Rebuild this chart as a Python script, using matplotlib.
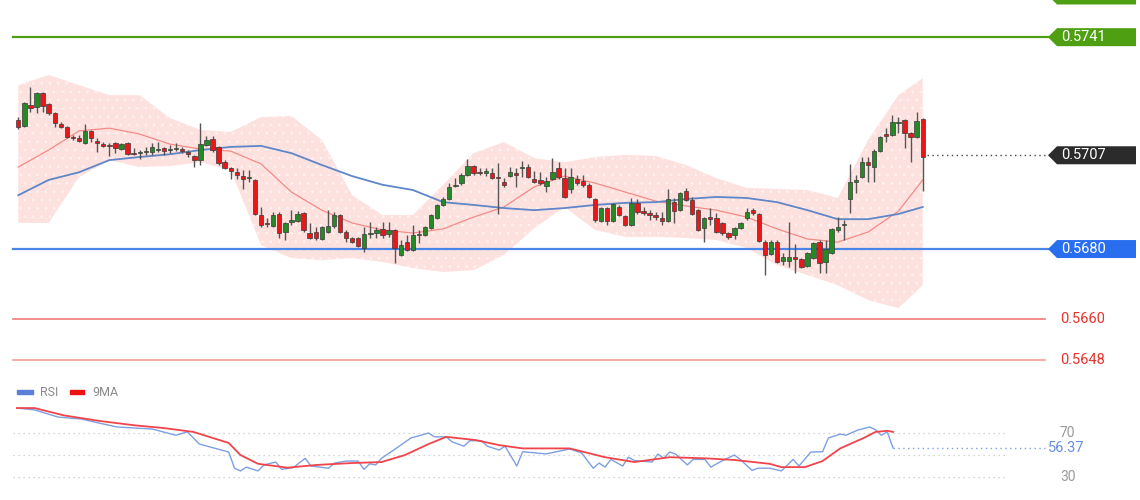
import numpy as np
import matplotlib
matplotlib.use("Agg")
import matplotlib.pyplot as plt
from matplotlib.patches import Polygon, Rectangle
import matplotlib.transforms as mtrans

plt.rcParams['font.family'] = ['Roboto', 'DejaVu Sans']
plt.rcParams['hatch.linewidth'] = 0.6

# ---- candles (150 bars) ----
opens = [.57171, .57154, .57215, .57209, .57249, .57217, .57191, .57160, .57151, .57123,
         .57120, .57105, .57140, .57111, .57102, .57099, .57105, .57088, .57105, .57076,
         .57076, .57079, .57079, .57085, .57091, .57085, .57088, .57088, .57079, .57068,
         .57056, .57099, .57117, .57094, .57050, .57033, .57021, .57010, .57004, .56999,
         .56898, .56875, .56866, .56901, .56849, .56878, .56880, .56904, .56846, .56849,
         .56829, .56849, .56866, .56898, .56849, .56832, .56832, .56803, .56843, .56846,
         .56858, .56843, .56855, .56783, .56820, .56797, .56840, .56840, .56860, .56889,
         .56927, .56944, .56982, .56990, .57013, .57039, .57021, .57019, .57019, .57007,
         .56993, .57010, .57019, .57033, .57036, .57001, .56999, .56982, .57001, .57033,
         .57004, .56973, .57001, .56996, .56985, .56944, .56880, .56918, .56880, .56921,
         .56895, .56869, .56933, .56909, .56904, .56898, .56889, .56880, .56935, .56912,
         .56967, .56941, .56912, .56860, .56892, .56889, .56875, .56846, .56840, .56860,
         .56889, .56912, .56901, .56820, .56786, .56820, .56765, .56765, .56777, .56771,
         .56751, .56774, .56820, .56763, .56788, .56855, .56869, .56944, .56993, .57007,
         .57050, .57036, .57082, .57131, .57128, .57163, .57171, .57134, .57123, .57174]
closes = [.57151, .57220, .57206, .57249, .57212, .57191, .57163, .57151, .57123, .57120,
          .57111, .57140, .57120, .57105, .57097, .57097, .57091, .57102, .57073, .57073,
          .57079, .57082, .57094, .57088, .57082, .57088, .57091, .57082, .57073, .57056,
          .57102, .57114, .57085, .57048, .57033, .57024, .57013, .57001, .57007, .56901,
          .56869, .56872, .56898, .56846, .56875, .56883, .56901, .56855, .56832, .56832,
          .56863, .56866, .56898, .56849, .56832, .56820, .56809, .56843, .56846, .56855,
          .56840, .56855, .56803, .56811, .56797, .56840, .56843, .56863, .56898, .56927,
          .56944, .56979, .56985, .57013, .57039, .57019, .57019, .57024, .57004, .57004,
          .56985, .57021, .57013, .57036, .57007, .56993, .56990, .56996, .57021, .57007,
          .56950, .57007, .56990, .56985, .56950, .56883, .56918, .56880, .56930, .56898,
          .56869, .56933, .56906, .56904, .56898, .56892, .56880, .56944, .56909, .56961,
          .56941, .56901, .56855, .56889, .56886, .56849, .56846, .56835, .56860, .56875,
          .56906, .56904, .56823, .56783, .56820, .56763, .56777, .56777, .56771, .56748,
          .56788, .56817, .56760, .56800, .56858, .56863, .56872, .56993, .56999, .57050,
          .57042, .57082, .57123, .57125, .57166, .57166, .57134, .57123, .57169, .57065]
highs = [.57180, .57223, .57266, .57252, .57252, .57220, .57194, .57166, .57154, .57128,
         .57128, .57160, .57143, .57120, .57108, .57105, .57108, .57105, .57108, .57091,
         .57085, .57094, .57105, .57108, .57094, .57099, .57105, .57094, .57085, .57071,
         .57163, .57125, .57125, .57097, .57056, .57036, .57033, .57027, .57027, .57002,
         .56921, .56889, .56906, .56906, .56878, .56912, .56909, .56907, .56875, .56863,
         .56866, .56912, .56906, .56901, .56855, .56835, .56835, .56863, .56878, .56863,
         .56878, .56878, .56858, .56826, .56840, .56869, .56855, .56866, .56901, .56930,
         .56950, .56990, .57004, .57019, .57059, .57042, .57033, .57033, .57033, .57048,
         .57004, .57036, .57033, .57053, .57045, .57024, .57021, .57007, .57062, .57050,
         .57033, .57033, .57013, .57013, .56990, .56947, .56921, .56921, .56933, .56927,
         .56898, .56947, .56944, .56921, .56912, .56906, .56906, .56973, .56947, .56964,
         .56976, .56950, .56915, .56892, .56918, .56904, .56878, .56849, .56863, .56878,
         .56918, .56918, .56904, .56826, .56826, .56826, .56788, .56878, .56814, .56774,
         .56791, .56820, .56826, .56826, .56860, .56892, .56883, .57045, .57013, .57065,
         .57065, .57088, .57125, .57148, .57186, .57180, .57174, .57137, .57194, .57177]
lows = [.57145, .57151, .57194, .57191, .57194, .57186, .57151, .57148, .57120, .57114,
        .57108, .57102, .57108, .57079, .57094, .57068, .57076, .57085, .57071, .57071,
        .57059, .57071, .57071, .57079, .57071, .57076, .57082, .57076, .57065, .57036,
        .57042, .57097, .57079, .57042, .57030, .57001, .57001, .56973, .56993, .56898,
        .56863, .56863, .56863, .56832, .56826, .56869, .56878, .56849, .56829, .56826,
        .56826, .56846, .56860, .56846, .56820, .56817, .56806, .56791, .56832, .56832,
        .56832, .56835, .56760, .56780, .56794, .56794, .56817, .56837, .56858, .56886,
        .56924, .56941, .56979, .56985, .57010, .57013, .57013, .57010, .57001, .56901,
        .56979, .57007, .56979, .57007, .57004, .56990, .56985, .56964, .56999, .57001,
        .56947, .56961, .56985, .56979, .56947, .56878, .56878, .56869, .56878, .56895,
        .56866, .56866, .56901, .56898, .56883, .56883, .56869, .56878, .56875, .56909,
        .56938, .56898, .56852, .56820, .56869, .56846, .56840, .56829, .56829, .56858,
        .56883, .56898, .56820, .56725, .56783, .56760, .56754, .56748, .56731, .56745,
        .56748, .56771, .56731, .56731, .56786, .56849, .56826, .56904, .56961, .57004,
        .56993, .56993, .57079, .57108, .57125, .57134, .57091, .57050, .57120, .56966]

# ---- overlays, read every 5 bars ----
ov_idx = [0, 5, 10, 15, 20, 25, 30, 35, 40, 45, 50, 55, 60, 65, 70, 75, 80, 85, 90, 95,
          100, 105, 110, 115, 120, 125, 130, 135, 140, 145, 149]
bb_mid = [.57036, .57085, .57140, .57148, .57131, .57102, .57088, .57082, .57045, .56964,
          .56912, .56875, .56855, .56846, .56858, .56892, .56921, .56979, .57010, .56990,
          .56964, .56938, .56924, .56912, .56892, .56858, .56829, .56820, .56849, .56909, .56999]
bb_up = [.57272, .57301, .57272, .57243, .57243, .57177, .57143, .57137, .57180, .57183,
         .57114, .56955, .56898, .56898, .56985, .57076, .57108, .57062, .57050, .57065,
         .57071, .57068, .57042, .57004, .56976, .56973, .56970, .56947, .57114, .57243, .57292]
bb_lo = [.56875, .56875, .57007, .57056, .57036, .57039, .57050, .57027, .56811, .56774,
         .56768, .56774, .56763, .56745, .56734, .56739, .56783, .56860, .56921, .56855,
         .56835, .56835, .56832, .56826, .56803, .56754, .56725, .56696, .56653, .56630, .56696]
ma_slow = [.56955, .56999, .57021, .57056, .57065, .57073, .57085, .57094, .57097, .57076,
           .57042, .57010, .56985, .56970, .56935, .56927, .56918, .56912, .56918, .56927,
           .56933, .56935, .56944, .56950, .56947, .56935, .56912, .56886, .56886, .56901, .56921]

# ---- levels ----
res_level = 0.5741
res_level2 = 0.5753
last_price = 0.5707
sup_level = 0.5680
sup2 = 0.5660
sup3 = 0.5648

# ---- RSI panel ----
rsi_idx = [0, 3, 7, 11, 14, 17, 23, 27, 29, 31, 36, 37, 38, 39, 41, 42, 44, 45, 47, 49,
           50, 53, 54, 56, 58, 59, 60, 61, 62, 65, 67, 70, 71, 73, 74, 76, 77, 79, 80, 82,
           83, 85, 86, 90, 94, 96, 98, 99, 100, 101, 103, 104, 105, 108, 109, 110, 111, 112, 114, 115,
           117, 118, 120, 122, 123, 125, 126, 128, 130, 132, 133, 135, 137, 138, 140, 141, 143, 145, 146, 147,
           148, 149]
rsi_val = [92.7, 91, 84.5, 82.7, 79, 75.5, 73.6, 68, 71, 60, 52.7, 38, 35.5, 39, 35.5, 41, 43.6, 37, 38.5, 47,
           40, 38, 42.7, 44.5, 44.5, 37, 42, 41, 47, 58, 65.5, 70, 66.5, 66.5, 62, 58, 63, 63, 58, 54.5,
           58, 40, 53, 51, 55.5, 52, 38, 42.7, 39, 46, 40, 48, 45, 43.6, 50.9, 47, 52.7, 50.9, 41, 46,
           46, 39, 45, 50, 46, 36, 38, 38, 35.5, 46, 40, 52.7, 53, 65.5, 69, 68, 72.7, 75.5, 73, 68,
           71, 56.37]
ma9_idx = [0, 3, 8, 14, 20, 25, 30, 36, 38, 41, 46, 51, 57, 62, 66, 70, 73, 78, 82, 86,
           94, 100, 105, 111, 117, 122, 128, 130, 134, 137, 140, 144, 146, 148, 149]
ma9_val = [92.7, 92.7, 86, 81, 77, 74.5, 71, 61, 50, 42, 38.5, 41, 42.7, 43.6, 50, 60, 66.5, 63.6, 59, 56,
           56, 48, 43.6, 48, 47, 45.5, 42, 39, 39, 44.5, 56, 65.5, 71, 72, 71]

W, H = 1140, 500
fig = plt.figure(figsize=(W / 100, H / 100), dpi=100)
fig.patch.set_facecolor('white')

# price panel covers pixel rows 0..380
ax = fig.add_axes([0, 120 / H, 1, 380 / H])
ax.axis('off')
x0, dx = 18.3, 6.07          # pixel of bar 0 and bar spacing
ax.set_xlim(-x0 / dx, (W - x0) / dx)
ax.set_ylim(0.56423, 0.57517)


def px(xp):
    return (xp - x0) / dx


# bollinger cloud
ax.fill_between(ov_idx, bb_lo, bb_up, facecolor='#fde1df', edgecolor='#fff4f3',
                hatch='..', linewidth=0, zorder=1)
ax.plot(ov_idx, bb_mid, color='#f28b86', lw=0.9, zorder=2)
ax.plot(ov_idx, ma_slow, color='#5f86c8', lw=1.3, zorder=2)

# candles
n = len(opens)
idx = np.arange(n)
o = np.array(opens); c = np.array(closes)
up = c >= o
ax.vlines(idx, lows, highs, color='#555555', lw=1.0, zorder=3)
bot = np.minimum(o, c)
hgt = np.maximum(np.abs(c - o), 0.000025)
ax.bar(idx[up], hgt[up], bottom=bot[up], width=0.72, color='#258a25',
       edgecolor='#3a3a3a', linewidth=0.5, zorder=4)
ax.bar(idx[~up], hgt[~up], bottom=bot[~up], width=0.72, color='#e81818',
       edgecolor='#3a3a3a', linewidth=0.5, zorder=4)

# horizontal levels
ax.plot([px(13), px(1050)], [res_level] * 2, color='#4e9f12', lw=1.6, zorder=2)
ax.plot([px(13), px(1050)], [sup_level] * 2, color='#4a86e8', lw=1.6, zorder=2)
ax.plot([px(13), px(1045)], [sup2] * 2, color='#f07b75', lw=1.2, zorder=2)
ax.plot([px(13), px(1045)], [sup3] * 2, color='#f4a09b', lw=1.2, zorder=2)
ax.plot([n - 0.3, px(1050)], [last_price] * 2, color='#444444', lw=1.0,
        ls=(0, (1, 2.5)), zorder=2)

tr = mtrans.blended_transform_factory(ax.transAxes, ax.transData)


def tag(price, text, face):
    h = 9 * 0.0000288
    xs = [1048, 1057, 1136, 1136, 1057]
    ys = [price, price + h, price + h, price - h, price - h]
    ax.add_patch(Polygon(list(zip([v / W for v in xs], ys)), closed=True,
                         facecolor=face, edgecolor='none', transform=tr, zorder=6))
    if text:
        ax.text(1061 / W, price, text, color='white', fontsize=10.5, va='center',
                ha='left', transform=tr, zorder=7)


tag(res_level2, '', '#4e9f12')   # label above the top edge, only its foot shows
tag(res_level, '0.5741', '#4e9f12')
tag(last_price, '0.5707', '#2b2b2b')
tag(sup_level, '0.5680', '#2a6ef0')
ax.text(1060 / W, sup2, '0.5660', color='#e8332b', fontsize=10.5, va='center', transform=tr)
ax.text(1060 / W, sup3, '0.5648', color='#e8332b', fontsize=10.5, va='center', transform=tr)

# trend arrow
ax.annotate('', xy=(px(1046), 0.57525), xytext=(px(928), last_price),
            arrowprops=dict(arrowstyle='-|>', color='#2f62a8', lw=3.5,
                            mutation_scale=28, shrinkA=0, shrinkB=0), zorder=8)

# ---- RSI ----
ax2 = fig.add_axes([0, 0, 1, 120 / H])
ax2.axis('off')
r0, rdx = 17.0, 5.88
ax2.set_xlim(-r0 / rdx, (W - r0) / rdx)
ax2.set_ylim(9.1, 118.2)


def rx(xp):
    return (xp - r0) / rdx


for lvl in (70, 50, 30):
    ax2.plot([rx(13), rx(1005)], [lvl, lvl], color='#c8c8c8', lw=0.9, ls=(0, (1, 3)))
ax2.plot(rsi_idx, rsi_val, color='#7d9fe3', lw=1.0, zorder=3)
ax2.plot(ma9_idx, ma9_val, color='#f0444a', lw=1.3, zorder=4)
ax2.plot([rsi_idx[-1], rx(1045)], [rsi_val[-1]] * 2, color='#7d9fe3', lw=1.0,
         ls=(0, (1, 2.5)))

tr2 = mtrans.blended_transform_factory(ax2.transAxes, ax2.transData)
ax2.text(1060 / W, 70, '70', color='#999999', fontsize=10, va='center', transform=tr2)
ax2.text(1060 / W, 30, '30', color='#999999', fontsize=10, va='center', transform=tr2)
ax2.text(1048 / W, rsi_val[-1], '56.37', color='#6a8fe0', fontsize=10.5, va='center',
         transform=tr2, bbox=dict(facecolor='white', edgecolor='none', pad=0.5))

# legend
fig.add_artist(Rectangle((17 / W, 1 - 394 / H), 16 / W, 4 / H, color='#5b7fd8',
                         transform=fig.transFigure))
fig.text(40 / W, 1 - 392 / H, 'RSI', color='#8a8a8a', fontsize=9, va='center')
fig.add_artist(Rectangle((70 / W, 1 - 394 / H), 14 / W, 4 / H, color='#ee1111',
                         transform=fig.transFigure))
fig.text(92 / W, 1 - 392 / H, '9MA', color='#8a8a8a', fontsize=9, va='center')

fig.savefig('out.png', dpi=100)
